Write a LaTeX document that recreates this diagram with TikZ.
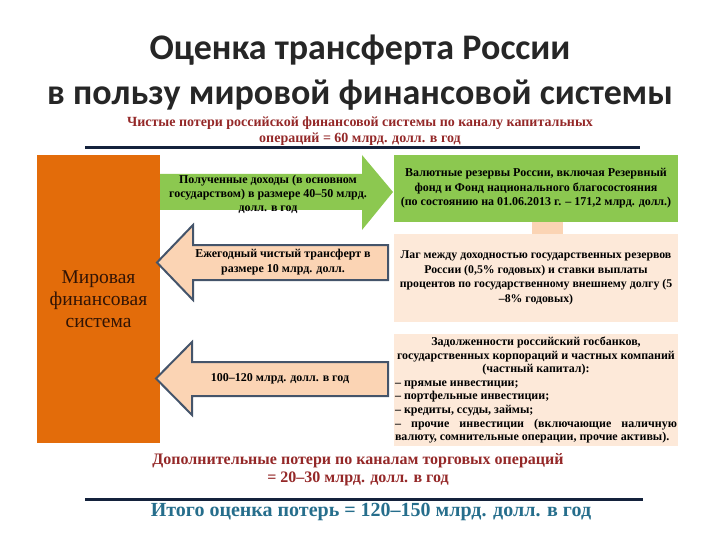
\documentclass[tikz,border=0pt]{standalone}
\usepackage{fontspec}
\setmainfont{Liberation Serif}
\newfontfamily\titlefont{Carlito}
\usetikzlibrary{positioning}

\definecolor{worldorange}{RGB}{227,108,10}
\definecolor{worldtext}{RGB}{50,20,5}
\definecolor{reservegreen}{RGB}{140,200,80}
\definecolor{peach}{RGB}{251,212,180}
\definecolor{lightpeach}{RGB}{253,233,217}
\definecolor{slate}{RGB}{68,84,106}
\definecolor{lossred}{RGB}{148,40,40}
\definecolor{totalblue}{RGB}{38,110,140}
\definecolor{rulenavy}{RGB}{20,34,60}
\definecolor{titlegray}{RGB}{38,38,38}

\tikzset{
  boxtext/.style={font=\fontsize{12}{14.5}\selectfont\bfseries, text=black},
  rightbox/.style={boxtext, minimum width=284pt, align=center, inner sep=0pt},
  blockarrow/.style={fill=peach, draw=slate, line width=2pt, line join=miter},
  losstext/.style={text=lossred, align=center, inner sep=0pt}
}

\begin{document}
\begin{tikzpicture}[x=1pt,y=-1pt]
\useasboundingbox (0,0) rectangle (720,540);

\node (title) [font=\titlefont\fontsize{36}{45}\selectfont\bfseries, text=titlegray, align=center] at (360,73)
  {Оценка трансферта России\\в пользу мировой финансовой системы};
\node (netloss) [losstext, font=\fontsize{14}{15.5}\selectfont\bfseries] at (360,131)
  {Чистые потери российской финансовой системы по каналу капитальных\\операций = 60 млрд. долл. в год};
\draw [rulenavy, line width=3pt] (85,148) -- (640,148);

\node (world) [fill=worldorange, minimum width=123pt, minimum height=288pt, text=worldtext,
  font=\fontsize{19.5}{22}\selectfont, align=center] at (98.5,299) {Мировая\\финансовая\\система};

\node (reserves) [rightbox, fill=reservegreen, minimum height=67pt] at (536,188.5)
  {Валютные резервы России, включая Резервный\\фонд и Фонд национального благосостояния\\(по состоянию на 01.06.2013 г. – 171,2 млрд. долл.)};
\node (lag) [rightbox, fill=lightpeach, minimum height=88pt, font=\fontsize{11.8}{14.5}\selectfont\bfseries] at (536,278)
  {Лаг между доходностью государственных резервов\\России (0,5\% годовых) и ставки выплаты\\процентов по государственному внешнему долгу (5\\–8\% годовых)};
\node (debt) [rightbox, fill=lightpeach, minimum height=112pt, text width=282pt, align=justify, font=\fontsize{12}{13.6}\selectfont\bfseries] at (536,390)
  {{\centering Задолженности российский госбанков,\\государственных корпораций и частных компаний\\(частный капитал):\par}
  \noindent – прямые инвестиции;\\
  – портфельные инвестиции;\\
  – кредиты, ссуды, займы;\\
  – прочие инвестиции (включающие наличную\linebreak валюту, сомнительные операции, прочие активы).};
\fill [peach] (532,222) rectangle (563,234);

\fill [reservegreen] (160,174) -- (362,174) -- (362,155) -- (393,192) -- (362,230) -- (362,210) -- (160,210) -- cycle;
\node (income) [boxtext, align=center, font=\fontsize{12}{14}\selectfont\bfseries] at (268,194)
  {Полученные доходы (в основном\\государством) в размере 40–50 млрд.\\долл. в год};

\draw [blockarrow] (388,245) -- (193,245) -- (193,225) -- (157,262.5) -- (193,300) -- (193,280) -- (388,280) -- cycle;
\node (transfer) [boxtext, align=center] at (283,262)
  {Ежегодный чистый трансферт в\\размере 10 млрд. долл.};

\draw [blockarrow] (388,362) -- (192,362) -- (192,342) -- (156,378.5) -- (192,415) -- (192,396) -- (388,396) -- cycle;
\node (outflow) [boxtext] at (280,379) {100–120 млрд. долл. в год};

\node (tradeloss) [losstext, font=\fontsize{16}{18}\selectfont\bfseries] at (358,470)
  {Дополнительные потери по каналам торговых операций\\= 20–30 млрд. долл. в год};
\draw [rulenavy, line width=3pt] (85,499) -- (643,499);
\node (total) [text=totalblue, font=\fontsize{20}{22}\selectfont\bfseries] at (371,512)
  {Итого оценка потерь = 120–150 млрд. долл. в год};
\end{tikzpicture}
\end{document}
